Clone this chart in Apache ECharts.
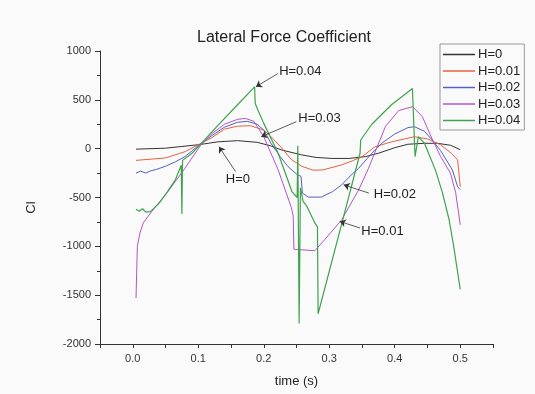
<!DOCTYPE html>
<html>
<head>
<meta charset="utf-8">
<title>Lateral Force Coefficient</title>
<script src="https://cdn.jsdelivr.net/npm/echarts@6/dist/echarts.min.js"></script>
<style>
html,body{margin:0;padding:0;background:#fafafa;}
#container{width:535px;height:394px;}
</style>
</head>
<body>
<div id="container"></div>
<script>
// series names
var names = ['H=0','H=0.01','H=0.02','H=0.03','H=0.04'];

// H=0
var t0 = [0.005,0.05,0.1,0.13,0.16,0.19,0.21,0.227,0.258,0.28,0.304,0.33,0.355,0.375,0.4,0.42,0.445,0.465,0.485,0.5];
var c0 = [-5,5,40,70,82,65,30,-13,-64,-90,-100,-100,-82,-47,10,45,55,55,35,-10];

// H=0.01
var t1 = [0.005,0.05,0.08,0.1,0.12,0.14,0.16,0.18,0.2,0.21,0.227,0.242,0.258,0.275,0.29,0.319,0.335,0.35,0.37,0.396,0.43,0.45,0.47,0.487,0.496,0.5];
var c1 = [-120,-95,-30,40,110,200,230,235,190,130,10,-110,-180,-220,-218,-166,-125,-82,20,71,122,100,40,-50,-115,-390];

// H=0.02
var t2 = [0.005,0.012,0.02,0.028,0.035,0.05,0.065,0.08,0.1,0.12,0.14,0.16,0.175,0.19,0.2,0.211,0.225,0.237,0.25,0.257,0.259,0.268,0.288,0.305,0.319,0.335,0.345,0.358,0.37,0.38,0.4,0.42,0.43,0.445,0.457,0.47,0.488,0.496,0.5];
var c2 = [-250,-230,-250,-225,-215,-180,-135,-80,30,130,220,270,280,250,190,55,-80,-183,-260,-285,-455,-496,-496,-440,-370,-260,-200,-100,-13,55,150,215,225,180,90,-20,-217,-390,-420];

// H=0.03
var t3 = [0.005,0.007,0.011,0.016,0.029,0.052,0.078,0.104,0.12,0.14,0.16,0.172,0.185,0.2,0.222,0.242,0.245,0.246,0.278,0.293,0.319,0.345,0.36,0.372,0.386,0.406,0.427,0.442,0.455,0.47,0.485,0.493,0.5];
var c3 = [-1530,-1000,-863,-761,-643,-455,-217,38,150,250,300,310,280,122,-217,-600,-690,-1030,-1045,-932,-728,-421,-200,0,230,390,430,330,130,-80,-250,-450,-780];

// H=0.04
var t4 = [0.005,0.01,0.015,0.02,0.027,0.04,0.052,0.065,0.074,0.075,0.076,0.09,0.104,0.13,0.16,0.186,0.187,0.191,0.2,0.222,0.243,0.251,0.252,0.254,0.256,0.26,0.265,0.278,0.282,0.283,0.319,0.347,0.348,0.365,0.395,0.427,0.431,0.436,0.445,0.462,0.473,0.483,0.49,0.5];
var c4 = [-620,-640,-615,-650,-645,-560,-450,-320,-170,-670,-120,-50,50,238,450,633,463,395,259,-47,-439,-500,30,-1790,-400,-540,-580,-760,-800,-1690,-770,-47,89,250,450,616,-82,122,60,-217,-455,-728,-1000,-1440];

var colors = ['#333333','#e4623f','#5560c0','#b455c8','#3fa34d'];

// callouts: label, text anchor, arrow start, arrow tip (data units)
var notes = [
    ['H=0.04', [0.2235,786], [0.2215,769], [0.188,633]],
    ['H=0.03', [0.2528,310], [0.2497,276], [0.196,122]],
    ['H=0',    [0.142,-319], [0.157,-235], [0.1317,20]],
    ['H=0.02', [0.368,-472], [0.3605,-455],[0.322,-370]],
    ['H=0.01', [0.349,-850], [0.347,-812], [0.316,-745]]
];

var pair = function(t,c){
    return t.map(function(x,i){ return [x,c[i]]; });
};

var dom = document.getElementById('container');
var myChart = echarts.init(dom, null, {renderer:'canvas'});
var font = 'Liberation Sans, Arial, sans-serif';

var lines = [[t0,c0],[t1,c1],[t2,c2],[t3,c3],[t4,c4]];
var series = lines.map(function(d,i){
    return {
        name:names[i],
        type:'line',
        data:pair(d[0],d[1]),
        symbol:'none',
        z:i==4 ? 3 : 2,
        lineStyle:{color:colors[i],width:i==4 ? 1.2 : 1},
        itemStyle:{color:colors[i]},
        animation:false
    };
});

series.push({
    name:'notes',
    type:'line',
    data:[],
    silent:true,
    animation:false,
    z:5,
    markLine:{
        silent:true,
        symbol:['none','arrow'],
        symbolSize:6,
        precision:4,
        lineStyle:{color:'#333',width:0.8,type:'solid'},
        label:{show:false},
        data:notes.map(function(n){
            return [{coord:n[2]},{coord:n[3]}];
        })
    },
    markPoint:{
        silent:true,
        symbol:'circle',
        symbolSize:0,
        label:{
            show:true,
            position:'right',
            distance:0,
            color:'#222',
            fontSize:13,
            fontFamily:font,
            formatter:function(p){ return p.name; }
        },
        data:notes.map(function(n){
            return {name:n[0],coord:n[1]};
        })
    }
});

var option = {
    backgroundColor:'#fafafa',
    animation:false,
    title:{
        text:'Lateral Force Coefficient',
        left:197,
        top:30,
        padding:0,
        textStyle:{color:'#222',fontSize:16,fontWeight:'normal',fontFamily:font}
    },
    legend:{
        data:names,
        orient:'vertical',
        left:440,
        top:44,
        padding:[4,4,3,3],
        itemGap:3.5,
        icon:'rect',
        itemWidth:32,
        itemHeight:1.5,
        borderColor:'#999',
        borderWidth:1,
        textStyle:{color:'#222',fontSize:13,lineHeight:13,fontFamily:font,padding:[0,0,0,-2]}
    },
    grid:{left:100,right:42,top:51,bottom:50},
    xAxis:{
        type:'value',
        min:-0.05,
        max:0.55,
        interval:0.05,
        name:'time (s)',
        nameLocation:'middle',
        nameGap:31,
        nameTextStyle:{color:'#222',fontSize:13,fontFamily:font},
        axisLine:{show:true,onZero:false,lineStyle:{color:'#333',width:1}},
        axisTick:{show:true,length:4,lineStyle:{color:'#333'}},
        axisLabel:{
            color:'#333',fontSize:11,fontFamily:font,margin:9,
            formatter:function(v){
                var k = v*10;
                if(Math.abs(k-Math.round(k))<1e-6 && v>-1e-6 && v<0.5+1e-6){ return v.toFixed(1); }
                return '';
            }
        },
        splitLine:{show:false}
    },
    yAxis:{
        type:'value',
        min:-2000,
        max:1000,
        interval:500,
        name:'Cl',
        nameLocation:'middle',
        nameGap:62,
        nameRotate:90,
        nameTextStyle:{color:'#222',fontSize:13,fontFamily:font,padding:[0,0,0,-20]},
        axisLine:{show:true,onZero:false,lineStyle:{color:'#333',width:1}},
        axisTick:{show:true,length:5,lineStyle:{color:'#333'}},
        minorTick:{show:true,splitNumber:2,length:3,lineStyle:{color:'#333'}},
        axisLabel:{
            color:'#333',fontSize:11,fontFamily:font,margin:9,
            formatter:function(v){ return String(v); }
        },
        splitLine:{show:false}
    },
    series:series
};

myChart.setOption(option, true);
window.addEventListener('resize',function(){
    myChart.resize();
});
</script>
</body>
</html>
